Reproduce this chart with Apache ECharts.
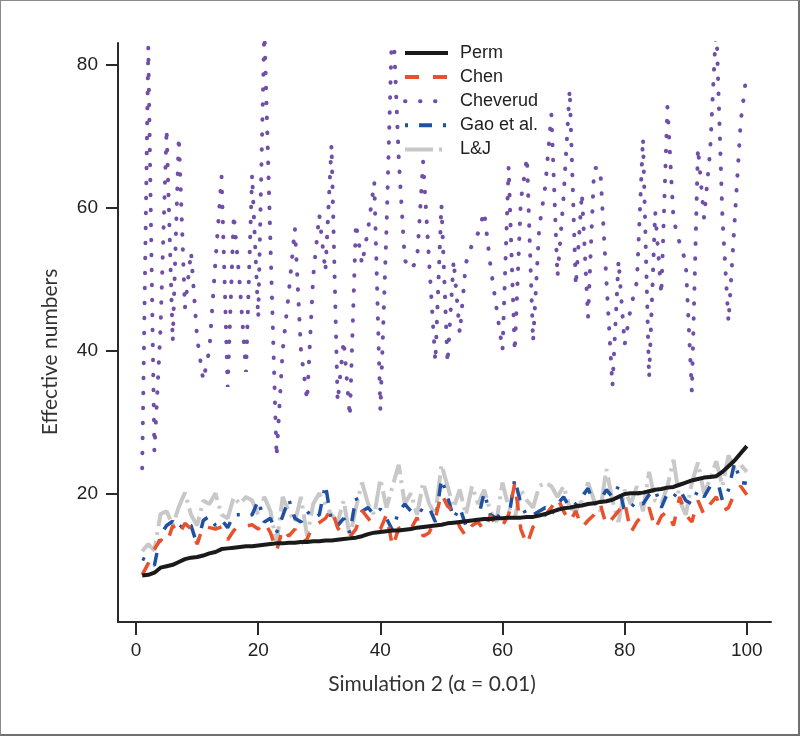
<!DOCTYPE html>
<html>
<head>
<meta charset="utf-8">
<script src="https://cdn.jsdelivr.net/npm/echarts@6/dist/echarts.min.js"></script>
<style>
html,body{margin:0;padding:0;background:#fff;}
#chart{position:absolute;left:0;top:0;width:800px;height:736px;}
#frame{position:absolute;left:0;top:0;width:800px;height:736px;box-sizing:border-box;border:1px solid #8a8a8a;border-right:2px solid #707070;border-bottom:2px solid #707070;pointer-events:none;}
</style>
</head>
<body>
<div id="chart"></div>
<div id="frame"></div>
<script>
// simulation index (x)
const simIndex = [1,2,3,4,5,6,7,8,9,10,11,12,13,14,15,16,17,18,19,20,
21,22,23,24,25,26,27,28,29,30,31,32,33,34,35,36,37,38,39,40,
41,42,43,44,45,46,47,48,49,50,51,52,53,54,55,56,57,58,59,60,
61,62,63,64,65,66,67,68,69,70,71,72,73,74,75,76,77,78,79,80,
81,82,83,84,85,86,87,88,89,90,91,92,93,94,95,96,97,98,99,100];

const perm = [8.5,8.6,8.9,9.6,9.8,10.0,10.4,10.8,11.0,11.1,
11.3,11.6,11.8,12.2,12.3,12.4,12.5,12.6,12.6,12.7,
12.8,12.9,13.0,13.0,13.1,13.1,13.2,13.2,13.3,13.3,
13.4,13.4,13.5,13.6,13.7,13.8,14.0,14.3,14.5,14.6,
14.7,14.8,14.8,14.9,15.0,15.2,15.3,15.4,15.5,15.6,
15.8,15.9,16.0,16.1,16.2,16.3,16.4,16.4,16.5,16.5,
16.6,16.6,16.6,16.7,16.7,16.9,17.1,17.4,17.7,17.9,
18.0,18.2,18.3,18.5,18.6,18.8,18.9,19.1,19.5,19.9,
20.0,20.0,20.1,20.3,20.5,20.6,20.8,20.9,21.2,21.5,
21.8,22.0,22.2,22.3,22.4,23.0,23.8,24.6,25.6,26.6];

const chen = [8.6,10.2,12.2,13.5,12.9,15.5,14.2,15.8,15.0,12.9,
15.5,15.2,15.0,15.3,13.5,14.8,15.6,15.4,15.6,15.0,
16.0,14.5,11.9,15.1,14.0,15.0,13.0,13.6,15.5,15.9,
16.5,17.8,15.2,14.0,13.9,15.0,17.6,16.5,15.3,15.0,
17.0,12.5,15.1,15.5,15.0,16.6,14.0,14.5,16.5,20.0,
18.2,17.5,15.3,14.0,15.5,16.0,14.8,16.9,15.3,15.5,
17.0,21.4,15.0,12.8,15.3,16.0,17.0,18.0,19.4,17.5,
16.0,17.5,15.2,16.2,17.0,18.5,15.5,16.5,17.5,18.8,
14.5,16.0,17.0,18.0,15.0,16.8,17.5,15.5,19.5,17.0,
16.0,19.0,17.0,18.5,19.5,17.5,18.0,20.0,21.0,19.8];

const cheverud = [23.5,82.5,25.9,43,71,41.2,69.9,45.9,53.8,41.7,
35.8,40.1,52.5,64.3,34.9,59,49,37,64.6,44.5,
85,55,25.1,40,48,57.1,40,33,50.3,59,
51,68.8,32.8,41.4,30.7,57.8,52,57,63.6,31.6,
57,88,67,52.6,51.3,52.6,66.4,52.2,38.4,60.4,
38.2,52.6,42.4,52.2,54.8,56.4,59.4,52,46,40,
65.7,39.8,61,67,41.2,57,63,73,50.3,61.5,
76.5,49,62,44.6,65.5,65.5,50,35,52.6,40.8,
46,49.6,69.7,36.1,59.4,47.8,74.1,58.3,55,52.4,
34.2,68.3,58.5,68,86,58.7,44,58,72,79];

const gao = [10.9,10.5,9.9,14.2,15.5,16.1,15.0,16.0,15.5,12.8,
16.2,16.8,15.5,16.3,15.2,17.0,17.0,16.8,17.0,19.0,
16.0,16.5,14.5,16.8,19.2,16.5,16.0,17.5,16.5,17.0,
21.2,16.0,15.5,16.5,14.5,19.4,17.5,18.0,17.0,17.8,
16.5,14.8,17.5,18.5,17.5,18.0,17.5,18.0,16.0,22.0,
19.5,16.5,18.0,15.5,16.0,16.5,20.1,17.0,16.5,17.5,
16.5,22.0,18.5,16.8,17.0,17.5,18.0,17.0,18.5,19.5,
18.0,18.5,19.5,20.7,18.5,19.0,20.5,19.5,21.0,17.5,
18.0,19.0,18.5,19.8,20.5,18.0,20.0,19.5,20.5,19.0,
18.5,20.5,19.5,21.0,22.5,19.0,20.5,24.3,21.5,21.4];

const lj = [11.9,12.9,12.0,17.1,17.5,15.5,18.1,20.1,17.0,15.5,
19.0,18.5,20.0,17.0,16.5,19.5,18.5,19.5,19.0,17.0,
19.5,17.5,12.9,19.5,17.5,16.0,19.5,14.0,18.5,20.0,
18.5,17.0,16.0,19.0,13.8,18.0,21.5,18.5,17.0,22.0,
18.0,21.0,24.0,18.5,20.0,17.0,21.5,18.5,17.0,24.0,
21.0,18.0,20.5,17.0,21.0,18.5,20.5,17.5,16.0,21.5,
18.0,16.5,20.5,19.0,18.0,21.0,21.5,21.0,19.5,21.0,
18.0,17.5,19.0,21.5,19.0,17.5,23.4,19.0,16.0,20.5,
18.5,21.0,17.5,23.0,19.0,18.5,21.0,24.7,19.0,17.0,
21.5,24.3,20.0,22.0,24.5,21.0,25.3,23.5,24.0,23.0];

const xTicks = [0,20,40,60,80,100];
const yTicks = [20,40,60,80];
const seriesNames = ['Perm','Chen','Cheverud','Gao et al.','L&J'];

function pairs(ys){ return simIndex.map((x,i)=>[x, ys[i]]); }

const chart = echarts.init(document.getElementById('chart'), null, {renderer:'canvas'});
const tickFont = {fontFamily:'Liberation Sans, Arial, sans-serif', fontSize:19, color:'#222'};
const titleFont = 'Lato, "Open Sans", sans-serif';

chart.setOption({
  animation:false,
  backgroundColor:'#fff',
  grid:{left:118, right:29, top:43, bottom:114, containLabel:false},
  xAxis:{
    type:'value', min:-2.96, max:103.96,
    axisLine:{show:true, onZero:false, lineStyle:{color:'#2a2a2a', width:2}},
    axisTick:{show:true, length:13, customValues:xTicks, lineStyle:{color:'#2a2a2a', width:2}},
    axisLabel:Object.assign({customValues:xTicks, margin:19}, tickFont),
    splitLine:{show:false}
  },
  yAxis:{
    type:'value', min:2, max:83,
    axisLine:{show:true, onZero:false, lineStyle:{color:'#2a2a2a', width:2}},
    axisTick:{show:true, length:12, customValues:yTicks, lineStyle:{color:'#2a2a2a', width:2}},
    axisLabel:Object.assign({customValues:yTicks, margin:20}, tickFont),
    splitLine:{show:false}
  },
  legend:{
    orient:'vertical', left:398, top:39, itemWidth:43, itemHeight:14, itemGap:6.1,
    data:seriesNames,
    itemStyle:{opacity:0},
    lineStyle:{width:4},
    textStyle:{fontFamily:'Liberation Sans, Arial, sans-serif', fontSize:18, color:'#222', padding:[0,0,0,7]}
  },
  graphic:[
    {type:'text', x:50, y:352, rotation:Math.PI/2, style:{text:'Effective numbers', font:'21px '+titleFont, fill:'#333', align:'center', verticalAlign:'middle'}},
    {type:'text', x:432, y:684, style:{text:'Simulation 2 (\u03b1 = 0.01)', font:'21px '+titleFont, fill:'#333', align:'center', verticalAlign:'middle'}}
  ],
  series:[
    {name:'Cheverud', type:'line', data:pairs(cheverud), symbol:'none', z:2,
     lineStyle:{color:'#6f4fa8', width:4, type:[0.5,14.5], cap:'round'}, itemStyle:{color:'#6f4fa8'}},
    {name:'L&J', type:'line', data:pairs(lj), symbol:'none', z:3,
     lineStyle:{color:'#c8c8c8', width:4, type:[28,6,3,6]}, itemStyle:{color:'#c8c8c8'}},
    {name:'Gao et al.', type:'line', data:pairs(gao), symbol:'none', z:4,
     lineStyle:{color:'#1f50a2', width:3.5, type:[3,11,13,11]}, itemStyle:{color:'#1f50a2'}},
    {name:'Chen', type:'line', data:pairs(chen), symbol:'none', z:5,
     lineStyle:{color:'#e8512b', width:3.5, type:[14,14]}, itemStyle:{color:'#e8512b'}},
    {name:'Perm', type:'line', data:pairs(perm), symbol:'none', z:6,
     lineStyle:{color:'#1a1a1a', width:4, type:'solid'}, itemStyle:{color:'#1a1a1a'}}
  ]
});
</script>
</body>
</html>
